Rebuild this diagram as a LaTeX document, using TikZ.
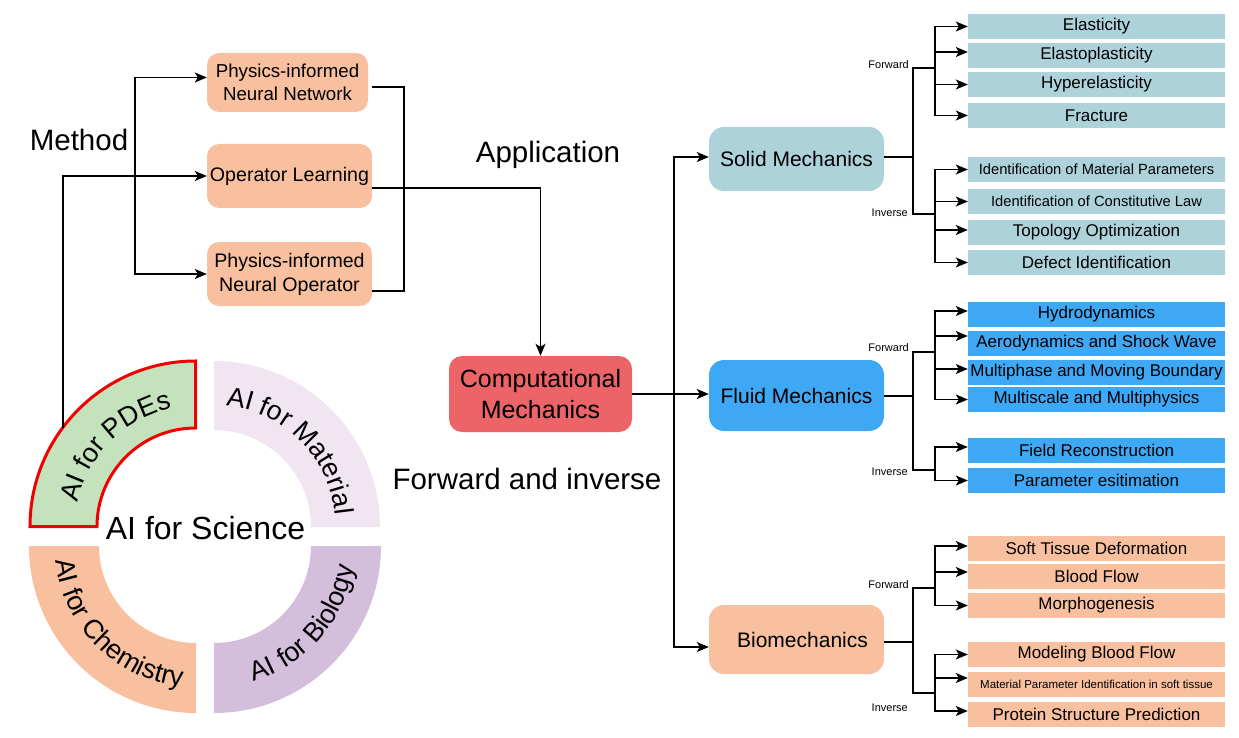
\documentclass[tikz,border=0pt]{standalone}
\usepackage{fontspec}
\setmainfont{Liberation Sans}
\usetikzlibrary{arrows.meta,decorations.text}
\definecolor{peach}{HTML}{F8C09E}
\definecolor{cmred}{HTML}{EC6468}
\definecolor{solidc}{HTML}{AED2DA}
\definecolor{fluidc}{HTML}{3FA8F4}
\definecolor{pdegreen}{HTML}{C4E2BC}
\definecolor{lavlight}{HTML}{F1E5F2}
\definecolor{biopurple}{HTML}{D3BEDC}
\definecolor{pdered}{HTML}{F00000}
\newcommand\ringfont{\fontsize{27}{27}\selectfont}
\begin{document}
\begin{tikzpicture}[x=1pt,y=1pt,
  arr/.style={line width=1.4pt,-{Stealth[length=12pt,width=10pt,inset=3pt]}},
  ln/.style={line width=1.4pt},
  mbox/.style={rectangle,rounded corners=12pt,fill=peach,inner sep=0pt,align=center},
  midbox/.style={rectangle,rounded corners=15pt,inner sep=0pt,minimum width=175pt,font=\fontsize{21}{21}\selectfont},
  sbox/.style={rectangle,inner sep=0pt,minimum width=257pt,minimum height=25pt,font=\fontsize{17}{17}\selectfont},
  lab/.style={anchor=east,inner sep=0pt,font=\fontsize{11}{11}\selectfont},
  big/.style={inner sep=0pt,font=\fontsize{29.5}{29.5}\selectfont}]
\useasboundingbox (0,0) rectangle (1239,-738);

% ---------- ring ----------
\fill[lavlight] ([shift={(90:166)}]214,-527) arc[start angle=90,end angle=0,radius=166pt]
  -- ([shift={(0:97)}]214,-527) arc[start angle=0,end angle=90,radius=97pt] -- cycle;
\fill[peach] ([shift={(180:167)}]196,-546) arc[start angle=180,end angle=270,radius=167pt]
  -- ([shift={(270:97)}]196,-546) arc[start angle=270,end angle=180,radius=97pt] -- cycle;
\fill[biopurple] ([shift={(270:167)}]214,-546) arc[start angle=270,end angle=360,radius=167pt]
  -- ([shift={(0:97)}]214,-546) arc[start angle=0,end angle=-90,radius=97pt] -- cycle;
\draw[pdered,fill=pdegreen,line width=3pt] ([shift={(180:165.5)}]195.5,-526.5) arc[start angle=180,end angle=90,radius=165.5pt]
  -- ([shift={(90:98.5)}]195.5,-526.5) arc[start angle=90,end angle=180,radius=98.5pt] -- cycle;

\path[decorate,decoration={text along path,text align=center,text={|\ringfont|AI for PDEs}}]
  ([shift={(180:122)}]197,-528) arc[start angle=180,end angle=90,radius=122pt];
\path[decorate,decoration={text along path,text align=center,text={|\ringfont|AI for Material}}]
  ([shift={(92:122)}]214,-527) arc[start angle=92,end angle=-2,radius=122pt];
\path[decorate,decoration={text along path,text align=center,text={|\ringfont|AI for Chemistry}}]
  ([shift={(180:141)}]196,-546) arc[start angle=180,end angle=270,radius=141pt];
\path[decorate,decoration={text along path,text align=center,text={|\ringfont|AI for Biology}}]
  ([shift={(274:141)}]214,-546) arc[start angle=274,end angle=364,radius=141pt];

\node[inner sep=0pt,font=\fontsize{32}{32}\selectfont] (sci) at (205.5,-528) {AI for Science};
\coordinate (pdept) at ([shift={(143.4:167)}]197,-528);

% ---------- method ----------
\node[big] (method) at (79,-140) {Method};
\node[big] (appl) at (548,-155) {Application};
\node[big] (fai) at (527,-479) {Forward and inverse};

\node[mbox,minimum width=161pt,minimum height=59pt,font=\fontsize{18.7}{23.5}\selectfont] (pinn) at (287.5,-82.5) {Physics-informed\\Neural Network};
\node[mbox,minimum width=165pt,minimum height=64pt,font=\fontsize{19.6}{24}\selectfont] (ol) at (289.5,-176) {Operator Learning};
\node[mbox,minimum width=165pt,minimum height=64pt,font=\fontsize{19.6}{24}\selectfont] (pino) at (289.5,-274) {Physics-informed\\Neural Operator};

\coordinate (split) at (135,-176);
\draw[arr] (pdept) |- (ol.west);
\draw[arr] (split) |- ([yshift=5pt]pinn.west);
\draw[arr] (split) |- (pino.west);
\coordinate (rbr) at (404,-188);
\draw[ln] ([xshift=4pt,yshift=-4.5pt]pinn.east) -| (rbr) |- ([yshift=-17pt]pino.east);

% ---------- computational mechanics ----------
\node[rectangle,rounded corners=13pt,fill=cmred,inner sep=0pt,minimum width=183pt,minimum height=76pt,align=center,font=\fontsize{25}{31}\selectfont] (cm) at (540.5,-394) {Computational\\Mechanics};
\draw[arr] ([yshift=-12pt]ol.east) -| (cm.north);

\node[midbox,fill=solidc,minimum height=64pt] (solid) at (796.5,-159) {Solid Mechanics};
\node[midbox,fill=fluidc,minimum height=71pt] (fluid) at (796.5,-395.5) {Fluid Mechanics};
\node[midbox,fill=peach,minimum height=69pt] (bio) at (796.5,-639.5) {\hspace*{12pt}Biomechanics};

\coordinate (trunk) at (674,-394);
\draw[arr] (cm.east) -- (cm.east -| fluid.west);
\draw[arr] (trunk) |- ([yshift=2pt]solid.west);
\draw[arr] (trunk) |- ([yshift=-7.5pt]bio.west);

% ---------- solid subtree ----------
\node[sbox,fill=solidc] (el) at (1096.5,-26.5) {Elasticity};
\node[sbox,fill=solidc] (ep) at (1096.5,-55.5) {Elastoplasticity};
\node[sbox,fill=solidc] (hy) at (1096.5,-84.5) {Hyperelasticity};
\node[sbox,fill=solidc] (fr) at (1096.5,-115.5) {Fracture};
\node[sbox,fill=solidc,font=\fontsize{14.7}{14.7}\selectfont] (im) at (1096.5,-169.5) {Identification of Material Parameters};
\node[sbox,fill=solidc,font=\fontsize{14.7}{14.7}\selectfont] (ic) at (1096.5,-201.5) {Identification of Constitutive Law};
\node[sbox,fill=solidc] (to) at (1096.5,-232.5) {Topology Optimization};
\node[sbox,fill=solidc] (de) at (1096.5,-262.5) {Defect Identification};

\node[lab] (sfl) at (909,-65) {Forward};
\node[lab] (sil) at (908,-213) {Inverse};
\coordinate (sj) at (913,-157);
\coordinate (sfj) at (935,-68);
\coordinate (sij) at (935,-214);
\draw[ln] (sj -| solid.east) -- (sj);
\draw[ln] (sfj) -| (sj) |- (sij);
\draw[arr] (sfj) |- (el.west);
\draw[arr] (sfj) |- ([yshift=3.5pt]ep.west);
\draw[arr] (sfj) |- (hy.west);
\draw[arr] (sfj) |- (fr.west);
\draw[arr] (sij) |- (im.west);
\draw[arr] (sij) |- (ic.west);
\draw[arr] (sij) |- ([yshift=2.5pt]to.west);
\draw[arr] (sij) |- (de.west);

% ---------- fluid subtree ----------
\node[sbox,fill=fluidc] (hd) at (1096.5,-314.5) {Hydrodynamics};
\node[sbox,fill=fluidc] (ae) at (1096.5,-343.5) {Aerodynamics and Shock Wave};
\node[sbox,fill=fluidc] (mp) at (1096.5,-372.5) {Multiphase and Moving Boundary};
\node[sbox,fill=fluidc] (ms) at (1096.5,-399.5) {Multiscale and Multiphysics};
\node[sbox,fill=fluidc] (fi) at (1096.5,-450.5) {Field Reconstruction};
\node[sbox,fill=fluidc] (pe) at (1096.5,-480.5) {Parameter esitimation};

\node[lab] (ffl) at (909,-348) {Forward};
\node[lab] (fil) at (908,-472) {Inverse};
\coordinate (fj) at (913,-396);
\coordinate (ffj) at (935,-352);
\coordinate (fij) at (935,-470);
\draw[ln] (fj -| fluid.east) -- (fj);
\draw[ln] (ffj) -| (fj) |- (fij);
\draw[arr] (ffj) |- ([yshift=3.5pt]hd.west);
\draw[arr] (ffj) |- ([yshift=7.5pt]ae.west);
\draw[arr] (ffj) |- ([yshift=3.5pt]mp.west);
\draw[arr] (ffj) |- (ms.west);
\draw[arr] (fij) |- ([yshift=3.5pt]fi.west);
\draw[arr] (fij) |- (pe.west);

% ---------- bio subtree ----------
\node[sbox,fill=peach] (st) at (1096.5,-548.5) {Soft Tissue Deformation};
\node[sbox,fill=peach] (bf) at (1096.5,-576.5) {Blood Flow};
\node[sbox,fill=peach] (mo) at (1096.5,-605.5) {Morphogenesis};
\node[sbox,fill=peach] (mb) at (1096.5,-654.5) {Modeling Blood Flow};
\node[sbox,fill=peach,font=\fontsize{11.5}{11.5}\selectfont] (mt) at (1096.5,-684.5) {Material Parameter Identification in soft tissue};
\node[sbox,fill=peach] (pr) at (1096.5,-714.5) {Protein Structure Prediction};

\node[lab] (bfl) at (909,-585) {Forward};
\node[lab] (bil) at (908,-708) {Inverse};
\coordinate (bj) at (913,-642);
\coordinate (bfj) at (935,-588);
\coordinate (bij) at (935,-693);
\draw[ln] (bj -| bio.east) -- (bj);
\draw[ln] (bfj) -| (bj) |- (bij);
\draw[arr] (bfj) |- ([yshift=2.5pt]st.west);
\draw[arr] (bfj) |- ([yshift=4.5pt]bf.west);
\draw[arr] (bfj) |- (mo.west);
\draw[arr] (bij) |- (mb.west);
\draw[arr] (bij) |- ([yshift=6.5pt]mt.west);
\draw[arr] (bij) |- ([yshift=3.5pt]pr.west);
\end{tikzpicture}
\end{document}
